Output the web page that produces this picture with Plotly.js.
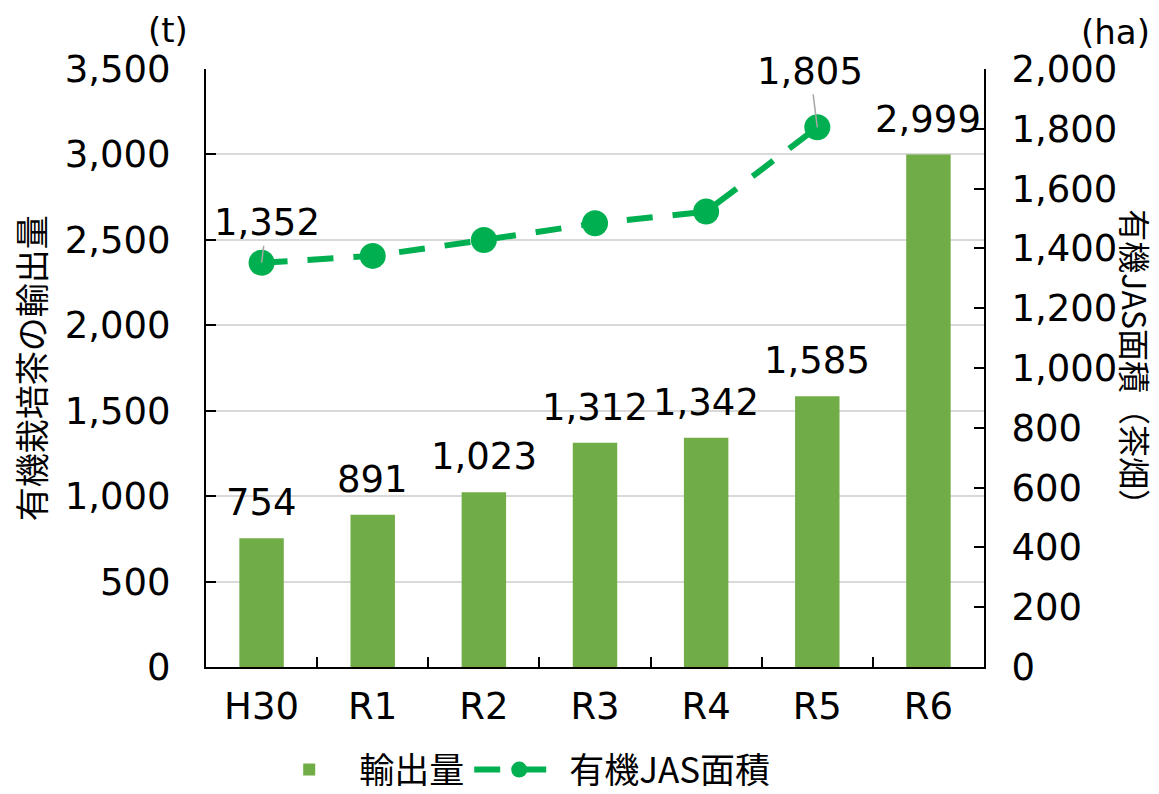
<!DOCTYPE html>
<html>
<head>
<meta charset="utf-8">
<script src="https://cdn.plot.ly/plotly-3.0.1.min.js"></script>
<style>html,body{margin:0;padding:0;background:#fff;}#chart{width:1159px;height:794px;}</style>
</head>
<body>
<div id="chart"></div>
<script>
const categories = ['H30', 'R1', 'R2', 'R3', 'R4', 'R5', 'R6'];
const exportVolume = [754, 891, 1023, 1312, 1342, 1585, 2999];
const jasAreaCats = ['H30', 'R1', 'R2', 'R3', 'R4', 'R5'];
const jasArea = [1352, 1375, 1428, 1484, 1523, 1805];
const leftTicks = [0, 500, 1000, 1500, 2000, 2500, 3000, 3500];
const rightTicks = [0, 200, 400, 600, 800, 1000, 1200, 1400, 1600, 1800, 2000];
const labeledPoints = ['H30', 'R5'];

const FONT = 'DejaVu Sans, "Noto Sans CJK JP", sans-serif';
const JFONT = '"Noto Sans CJK JP", "DejaVu Sans", sans-serif';

const fmt = v => v.toLocaleString('en-US');

const traces = [
  {
    type: 'bar', name: '輸出量', x: categories, y: exportVolume,
    marker: {color: '#70AD47'},
    hoverinfo: 'x+y'
  },
  {
    type: 'scatter', mode: 'lines+markers', name: '有機JAS面積',
    x: jasAreaCats, y: jasArea, yaxis: 'y2',
    line: {color: '#00B050', width: 6, dash: '26px,20px'},
    marker: {color: '#00B050', size: 26},
    cliponaxis: false
  }
];

const annotations = labeledPoints.map((c, k) => {
  const i = jasAreaCats.indexOf(c);
  const off = k === 0 ? {ax: 5, ay: -40} : {ax: -7, ay: -56};
  return {
    x: c, y: jasArea[i], xref: 'x', yref: 'y2', text: fmt(jasArea[i]),
    showarrow: true, arrowhead: 0, arrowcolor: '#A6A6A6', arrowwidth: 1.5,
    standoff: 0, ax: off.ax, ay: off.ay,
    font: {family: FONT, size: 37, color: '#000'}
  };
});
categories.forEach((c, i) => {
  annotations.push({
    x: c, y: exportVolume[i], xref: 'x', yref: 'y', text: fmt(exportVolume[i]),
    showarrow: false, xanchor: 'center', yanchor: 'bottom', yshift: 12,
    font: {family: FONT, size: 37, color: '#000'}
  });
});
annotations.push(
  {xref: 'paper', yref: 'paper', x: -0.02, y: 1.065, xanchor: 'right', yanchor: 'middle',
   text: '(t)', showarrow: false, font: {family: FONT, size: 34, color: '#000'}},
  {xref: 'paper', yref: 'paper', x: 1.216, y: 1.062, xanchor: 'right', yanchor: 'middle',
   text: '(ha)', showarrow: false, font: {family: FONT, size: 34, color: '#000'}},
  {xref: 'paper', yref: 'paper', x: -0.226, y: 0.5, xanchor: 'center', yanchor: 'middle', textangle: -90,
   text: '有機栽培茶の輸出量', showarrow: false, font: {family: JFONT, size: 34, color: '#000'}},
  {xref: 'paper', yref: 'paper', x: 1.195, y: 0.505, xanchor: 'center', yanchor: 'middle', textangle: 90,
   text: '有機JAS面積（茶畑）', showarrow: false, font: {family: JFONT, size: 32, color: '#000'}}
);

const layout = {
  width: 1159, height: 794,
  margin: {l: 206, r: 175, t: 69, b: 127, autoexpand: false},
  paper_bgcolor: '#fff', plot_bgcolor: '#fff',
  bargap: 0.6,
  showlegend: true,
  legend: {orientation: 'h', x: 0.40, xanchor: 'center', y: -0.172, yanchor: 'middle',
           font: {family: JFONT, size: 35, color: '#000'}, itemwidth: 90,
           traceorder: 'normal'},
  xaxis: {
    type: 'category', categoryarray: categories,
    showline: true, linecolor: '#000', linewidth: 2,
    ticks: 'inside', tickson: 'boundaries', ticklen: 10, tickcolor: '#000', tickwidth: 2,
    tickfont: {family: FONT, size: 37, color: '#000'}, ticklabelstandoff: 6,
    showgrid: false, zeroline: false
  },
  yaxis: {
    range: [0, 3500], tickvals: leftTicks, ticktext: leftTicks.map(fmt),
    showline: true, linecolor: '#000', linewidth: 2,
    ticks: 'inside', ticklen: 10, tickcolor: '#000', tickwidth: 2,
    tickfont: {family: FONT, size: 37, color: '#000'}, ticklabelstandoff: 26,
    showgrid: true, gridcolor: '#D9D9D9', gridwidth: 2, zeroline: false
  },
  yaxis2: {
    overlaying: 'y', side: 'right', range: [0, 2000],
    tickvals: rightTicks, ticktext: rightTicks.map(fmt),
    showline: true, linecolor: '#000', linewidth: 2,
    ticks: 'inside', ticklen: 10, tickcolor: '#000', tickwidth: 2,
    tickfont: {family: FONT, size: 37, color: '#000'}, ticklabelstandoff: 18,
    showgrid: false, zeroline: false
  },
  annotations: annotations
};

Plotly.newPlot('chart', traces, layout, {displayModeBar: false, staticPlot: true});
</script>
</body>
</html>
